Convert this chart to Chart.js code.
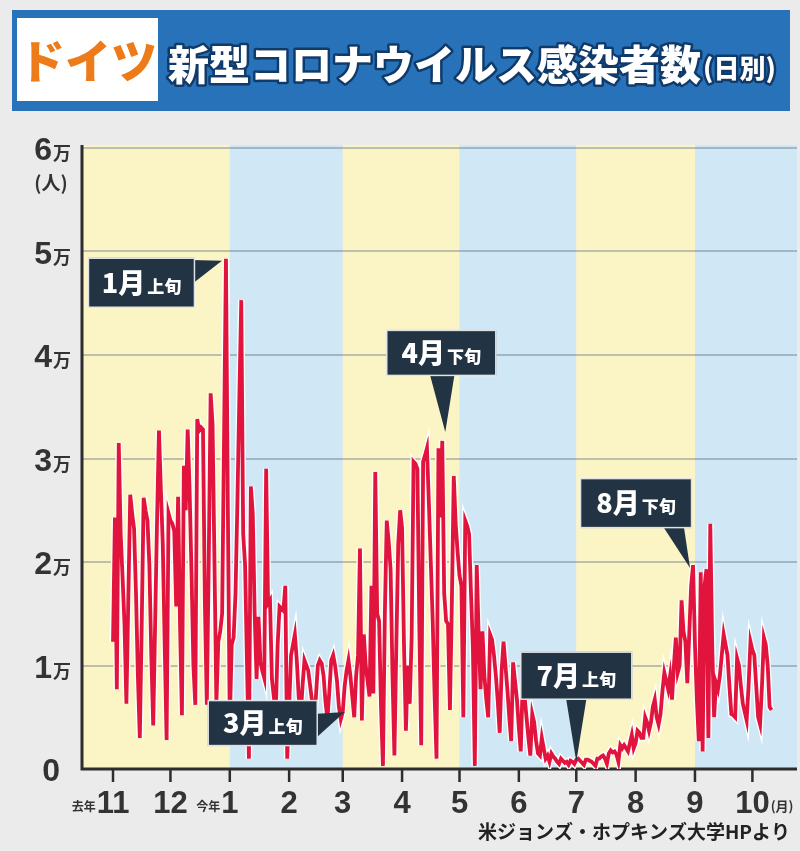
<!DOCTYPE html>
<html lang="ja">
<head>
<meta charset="utf-8">
<title>ドイツ 新型コロナウイルス感染者数(日別)</title>
<script src="https://cdn.jsdelivr.net/npm/chart.js@4.4.1/dist/chart.umd.min.js"></script>
<style>
  html, body { margin: 0; padding: 0; background: #ebebeb; }
  #wrap { width: 800px; height: 851px; }
</style>
</head>
<body>
<div id="wrap"><canvas id="germanyChart" width="800" height="851"></canvas></div>
<script>
// 日別の新規感染者数(人) 2020/11/1 〜 2021/10/11
const nov = [12300, 24300, 7700, 31500, 22700, 18500, 14000, 6300, 16500, 26500, 24700, 23200, 17000, 9000, 3000, 14000, 26200, 25000, 24000, 19700, 11000, 4200, 14000, 24000, 32700, 27000, 21700, 12000, 2800, 24700];
const dec = [24000, 23700, 23000, 15700, 26300, 14000, 5200, 29300, 25000, 32800, 27000, 19000, 10000, 6200, 33800, 32700, 33000, 32800, 16000, 6200, 20000, 36300, 33300, 20000, 6300, 12300, 13300, 15000, 32000, 49300, 25000];
const jan = [4300, 12000, 12700, 17000, 26000, 36000, 45300, 22700, 19700, 10000, 1000, 27300, 24700, 15000, 8700, 14700, 10300, 9500, 8800, 29000, 16000, 16300, 8700, 7000, 5300, 12000, 15700, 15500, 15300, 17700, 1000];
const feb = [6000, 11000, 12000, 13000, 10500, 7000, 5000, 8000, 10500, 10000, 9500, 8000, 6500, 4500, 7000, 10000, 10500, 10200, 9000, 6500, 4800, 7500, 10500, 11000, 10000, 8500, 6000, 4800];
const mar = [5500, 8000, 9500, 10500, 9000, 7000, 5000, 9000, 11000, 21300, 4700, 13000, 10000, 8500, 7000, 17700, 7300, 28700, 15000, 14300, 6000, 300, 15000, 24000, 22000, 19300, 9000, 1300, 12000, 21700, 25000];
const apr = [23300, 12000, 3700, 10000, 6300, 12700, 29700, 29500, 29000, 14000, 2300, 29700, 30300, 31000, 25700, 20000, 14300, 7000, 1000, 31000, 24300, 31700, 17000, 14300, 14000, 5700, 16000, 28300, 23700, 21000];
const may = [18700, 17700, 5000, 24000, 23500, 22700, 17000, 11700, 300, 19700, 13000, 7700, 13300, 9000, 6700, 5000, 13000, 12500, 11000, 9000, 6500, 3500, 9500, 12300, 10000, 7700, 5000, 2700, 10300, 8500, 6700];
const jun = [4000, 1700, 8300, 7000, 5000, 3000, 1300, 5300, 4500, 2700, 1500, 1300, 3000, 2000, 1000, 1300, 700, 1500, 1200, 1000, 700, 500, 1000, 800, 600, 700, 400, 800, 700, 500];
const jul = [900, 1000, 800, 600, 400, 900, 900, 800, 700, 500, 300, 1000, 1000, 1200, 1300, 1000, 500, 1500, 1800, 1600, 1700, 1400, 700, 2300, 2000, 2300, 2000, 1700, 2500, 3300, 2000];
const aug = [2500, 3700, 3500, 3000, 3000, 5000, 4500, 3700, 4500, 6000, 6700, 5000, 4300, 5300, 7500, 9300, 8500, 7700, 9000, 6700, 10000, 12700, 9300, 10000, 16300, 13300, 12300, 8300, 13000, 17700, 19700];
const sep = [12000, 6700, 2700, 19000, 1700, 17700, 19300, 3000, 23700, 12000, 5000, 8300, 7700, 9000, 11000, 13000, 12000, 11000, 8000, 5300, 5200, 5000, 10700, 10000, 8000, 6300, 5500, 4700, 8000, 12300];
const oct = [11500, 11000, 8000, 5000, 4300, 8000, 12700, 12000, 10000, 6000, 5700];

// 月初の日番号(11/1 = 0)と目盛ラベル
const monthStarts = [0, 30, 61, 92, 120, 151, 181, 212, 242, 273, 304, 334];
const monthLabels = ["11", "12", "1", "2", "3", "4", "5", "6", "7", "8", "9", "10"];
const monthPrefix = ["去年", "", "今年", "", "", "", "", "", "", "", "", ""];
const yTicks = [0, 10000, 20000, 30000, 40000, 50000, 60000];
const yTickLabels = ["0", "1", "2", "3", "4", "5", "6"];
// 背景の色分け(2か月ごと)の境目
const bandStarts = [null, 61, 120, 181, 242, 304];

// 吹き出し: 月、旬、指している日
const calloutMonth = ["1月", "4月", "8月", "7月", "3月"];
const calloutPart = ["上旬", "下旬", "下旬", "上旬", "上旬"];
const calloutDay = [59, 172, 303, 242, 120];

const cases = [].concat(nov, dec, jan, feb, mar, apr, may, jun, jul, aug, sep, oct);
const points = cases.map((v, i) => ({ x: i, y: v }));

const numFont = (px) => `bold ${px}px "Liberation Sans Narrow", "Liberation Sans", Arial, sans-serif`;
const jpFont = (px, w) => `${w || "bold"} ${px}px "Noto Sans CJK JP", "Noto Sans", sans-serif`;

// 吹き出しの位置(指す点からのずれ)
const calloutLayout = [
    { box: [-138, -1, 107, 50], base: [[93, 2], [107, 24]], tip: [-4, 2] },
    { box: [-56, -111, 110, 46], base: [[44, 46], [68, 46]], tip: [3, -9] },
    { box: [-113, -87, 112, 50], base: [[84, 50], [104, 50]], tip: [-3, 3] },
    { box: [-56, -108, 112, 48], base: [[46, 48], [66, 48]], tip: [0, 2] },
    { box: [-135, -12, 110, 46], base: [[106, 14], [106, 40]], tip: [2, 0] }
];

const decor = {
    id: "decor",
    beforeDraw(chart) {
        const { ctx, chartArea: a, scales: { x } } = chart;
        ctx.save();
        ctx.fillStyle = "#ebebeb";
        ctx.fillRect(0, 0, chart.width, chart.height);

        // タイトル帯
        ctx.fillStyle = "#2772b8";
        ctx.fillRect(12, 10, 778, 101);
        ctx.fillStyle = "#ffffff";
        ctx.fillRect(17, 18, 141, 83);
        ctx.font = jpFont(46, 900);
        ctx.fillStyle = "#ee7b1a";
        ctx.textAlign = "center";
        ctx.textBaseline = "alphabetic";
        ctx.fillText("ドイツ", 88, 78);

        ctx.textAlign = "left";
        ctx.lineJoin = "round";
        ctx.font = jpFont(41, 900);
        const title = "新型コロナウイルス感染者数";
        ctx.strokeStyle = "#0f3a6a";
        ctx.lineWidth = 5;
        ctx.strokeText(title, 168, 80);
        ctx.fillStyle = "#ffffff";
        ctx.fillText(title, 168, 80);
        const tw = ctx.measureText(title).width;
        ctx.font = jpFont(26, 900);
        ctx.strokeText("(日別)", 170 + tw, 78);
        ctx.fillText("(日別)", 170 + tw, 78);

        // 2か月ごとの背景
        bandStarts.forEach((d, i) => {
            const from = x.getPixelForValue(d === null ? x.min : d);
            const next = bandStarts[i + 1];
            const to = next === undefined ? a.right : x.getPixelForValue(next);
            ctx.fillStyle = i % 2 === 0 ? "#fbf5c6" : "#d0e7f5";
            ctx.fillRect(from, a.top - 3, to - from, a.bottom - a.top + 3);
        });
        ctx.restore();
    },
    beforeDatasetsDraw(chart) {
        const { ctx, chartArea: a, scales: { x, y } } = chart;
        const y0 = y.getPixelForValue(0);
        ctx.save();
        ctx.strokeStyle = "#2d2d2d";
        ctx.lineWidth = 3;
        ctx.beginPath();
        ctx.moveTo(a.left, a.top - 3);
        ctx.lineTo(a.left, y0);
        ctx.lineTo(a.right, y0);
        ctx.stroke();
        ctx.lineWidth = 2.5;
        monthStarts.forEach((d) => {
            const px = x.getPixelForValue(d);
            ctx.beginPath();
            ctx.moveTo(px, y0);
            ctx.lineTo(px, y0 + 13);
            ctx.stroke();
        });
        ctx.restore();
    },
    afterDraw(chart) {
        const { ctx, scales: { x, y } } = chart;
        ctx.save();
        ctx.fillStyle = "#333333";
        ctx.textBaseline = "alphabetic";

        // 横軸の月
        monthStarts.forEach((d, i) => {
            const px = x.getPixelForValue(d);
            ctx.font = numFont(31);
            ctx.textAlign = "center";
            ctx.fillText(monthLabels[i], px, 813);
            const w = ctx.measureText(monthLabels[i]).width;
            if (monthPrefix[i]) {
                ctx.font = jpFont(12);
                ctx.textAlign = "right";
                ctx.fillText(monthPrefix[i], px - w / 2 - 1, 811);
            }
            if (i === monthStarts.length - 1) {
                ctx.font = jpFont(13);
                ctx.textAlign = "left";
                ctx.fillText("(月)", px + w / 2 + 1, 811);
            }
        });

        // 縦軸
        yTicks.forEach((v, i) => {
            const py = y.getPixelForValue(v);
            if (v === 0) {
                ctx.font = numFont(32);
                ctx.textAlign = "right";
                ctx.fillText(yTickLabels[i], 60, py + 12);
                return;
            }
            ctx.font = jpFont(18);
            const mw = ctx.measureText("万").width;
            ctx.textAlign = "left";
            ctx.fillText("万", 71 - mw, py + 12);
            ctx.font = numFont(32);
            ctx.textAlign = "right";
            ctx.fillText(yTickLabels[i], 70 - mw, py + 12);
        });
        ctx.font = jpFont(19);
        ctx.textAlign = "center";
        ctx.fillText("(人)", 51, 190);

        // 出典
        ctx.fillStyle = "#222222";
        ctx.font = jpFont(19);
        ctx.textAlign = "right";
        ctx.fillText("米ジョンズ・ホプキンズ大学HPより", 790, 839);

        // 吹き出し
        calloutDay.forEach((d, i) => {
            const lay = calloutLayout[i];
            const p = { x: x.getPixelForValue(d), y: y.getPixelForValue(cases[d]) };
            const bx = p.x + lay.box[0], by = p.y + lay.box[1];
            const bw = lay.box[2], bh = lay.box[3];
            ctx.fillStyle = "#223443";
            ctx.strokeStyle = "rgba(255,255,255,0.85)";
            ctx.lineWidth = 1.5;
            ctx.beginPath();
            ctx.moveTo(bx + lay.base[0][0], by + lay.base[0][1]);
            ctx.lineTo(p.x + lay.tip[0], p.y + lay.tip[1]);
            ctx.lineTo(bx + lay.base[1][0], by + lay.base[1][1]);
            ctx.closePath();
            ctx.fill();
            ctx.fillRect(bx, by, bw, bh);
            ctx.strokeRect(bx + 0.5, by + 0.5, bw - 1, bh - 1);

            ctx.fillStyle = "#ffffff";
            ctx.font = jpFont(27, 900);
            const w1 = ctx.measureText(calloutMonth[i]).width;
            ctx.font = jpFont(17, 900);
            const w2 = ctx.measureText(calloutPart[i]).width;
            const sx = bx + (bw - w1 - w2 - 2) / 2;
            ctx.textAlign = "left";
            ctx.font = jpFont(27, 900);
            ctx.fillText(calloutMonth[i], sx, by + bh / 2 + 10);
            ctx.font = jpFont(17, 900);
            ctx.fillText(calloutPart[i], sx + w1 + 2, by + bh / 2 + 10);
        });
        ctx.restore();
    }
};

new Chart(document.getElementById("germanyChart").getContext("2d"), {
    type: "line",
    data: {
        datasets: [
            {
                data: points,
                borderColor: "#e1143e",
                borderWidth: 3.8,
                pointRadius: 0,
                tension: 0,
                order: 0
            },
            {
                data: points,
                borderColor: "#ffffff",
                borderWidth: 6.5,
                pointRadius: 0,
                tension: 0,
                order: 1
            }
        ]
    },
    options: {
        responsive: false,
        animation: false,
        layout: { autoPadding: false, padding: { left: 82, right: 3, top: 148, bottom: 82 } },
        plugins: { legend: { display: false }, tooltip: { enabled: false } },
        scales: {
            x: { type: "linear", min: -16.2, max: 357.3, display: false },
            y: {
                min: 0,
                max: 60000,
                afterFit: (s) => { s.width = 0; },
                afterBuildTicks: (s) => { s.ticks = yTicks.map((v) => ({ value: v })); },
                ticks: { display: false },
                border: { display: false },
                grid: { color: "rgba(95,110,125,0.4)", lineWidth: 2, drawTicks: false }
            }
        }
    },
    plugins: [decor]
});
</script>
</body>
</html>
